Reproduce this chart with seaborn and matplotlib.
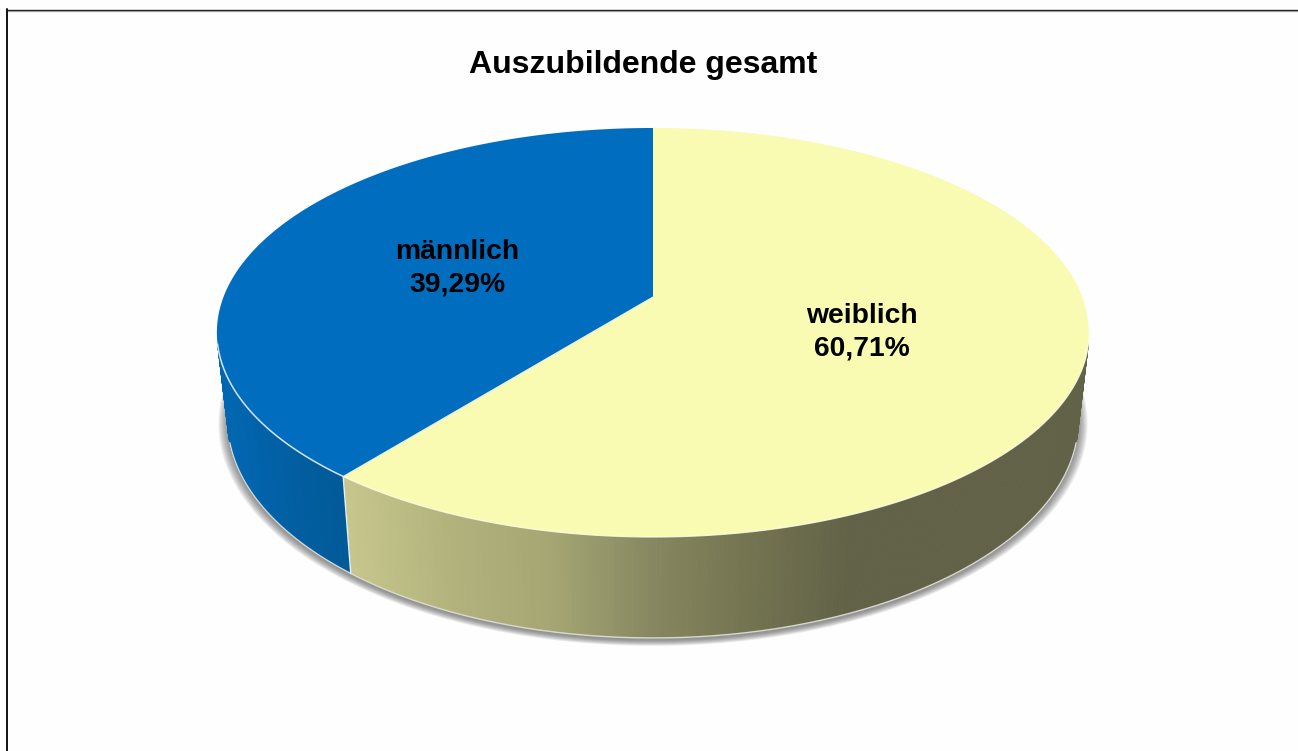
import numpy as np
import matplotlib
matplotlib.use("Agg")
import matplotlib.pyplot as plt
import seaborn as sns

# -----------------------------
# DATA
# -----------------------------
categories = ["männlich", "weiblich"]
shares = [39.29, 60.71]
value_labels = ["39,29%", "60,71%"]
title = "Auszubildende gesamt"

# -----------------------------
# STYLE
# -----------------------------
sns.set_theme(style="white")
plt.rcParams["font.family"] = ["Liberation Sans", "DejaVu Sans"]

BG = "#FEFEFE"
TOP_COLORS = sns.color_palette(["#016DBF", "#F9FBB2"])

# side shading, (pixel x, rgb) stops per slice
SIDE_STOPS = [
    ([228, 340], [(2, 102, 176), (2, 90, 152)]),
    ([349, 450, 550, 650, 750, 850, 1078],
     [(197, 197, 140), (178, 178, 125), (165, 166, 115), (135, 136, 97),
      (115, 116, 80), (98, 98, 72), (98, 98, 72)]),
]

# -----------------------------
# PROJECTION (perspective disc seen from above)
# -----------------------------
CX = 653
PERSP = 0.1736
WALL_LIMIT = -0.22  # cos(theta) where the wall silhouette starts


def project(theta, a, s, b, grow=0.0):
    # theta is measured clockwise from the top of the disc
    u, v = np.sin(theta), np.cos(theta)
    d = 1 + PERSP * v
    return CX + (a + grow) * u / d, (b - (s + grow * 0.5) * v) / d


def top_disc(theta):
    return project(theta, 429.5, 146.8, 297)


def low_disc(theta, grow=0.0, drop=0.0):
    x, y = project(theta, 419, 144.7, 382.5, grow)
    return x, y + drop


def side_color(x, stops):
    xs, rgb = stops
    rgb = np.array(rgb) / 255
    return [np.interp(x, xs, rgb[:, i]) for i in range(3)]


# -----------------------------
# PLOT
# -----------------------------
fig = plt.figure(figsize=(12.98, 7.51), dpi=100, facecolor=BG)
ax = fig.add_axes([0, 0, 1, 1])
ax.set_xlim(0, 1298)
ax.set_ylim(751, 0)
ax.axis("off")

# frame, only top and left are visible in the export
ax.plot([6.5, 1298], [10.6, 10.6], color="#BBBBBB", lw=1.0, zorder=1)
ax.plot([6.5, 1298], [9.5, 9.5], color="#222222", lw=1.0, zorder=1)
ax.plot([6.5, 6.5], [9, 751], color="#111111", lw=1.4, zorder=1)

# slice limits, clockwise from top: weiblich first, männlich closes the circle
fractions = np.array(shares) / sum(shares)
split = 2 * np.pi * fractions[1]
ranges = {1: (0, split), 0: (split, 2 * np.pi)}

# soft shadow below the disc
full = np.linspace(0, 2 * np.pi, 400)
for grow in np.linspace(9, 0, 10):
    sx, sy = low_disc(full, grow=grow, drop=2.5)
    keep = np.cos(full) < 0.0
    ax.fill(sx[keep], sy[keep], color="#555555", alpha=0.085, lw=0, zorder=2)

# side wall: solid base first so the thin strips do not let the shadow through
for i, (start, end) in ranges.items():
    th = np.linspace(start, end, 500)
    th = th[np.cos(th) < WALL_LIMIT]
    tx, ty = top_disc(th)
    lx, ly = low_disc(th)
    base = side_color(tx[0] if i == 0 else tx[-1], SIDE_STOPS[i])
    ax.fill(np.r_[tx, lx[::-1]], np.r_[ty, ly[::-1]], color=base, lw=0,
            zorder=3)

    # shaded by screen x
    for t0, t1 in zip(th[:-1], th[1:]):
        x0, y0 = top_disc(t0)
        x1, y1 = top_disc(t1)
        x2, y2 = low_disc(t1)
        x3, y3 = low_disc(t0)
        col = side_color((x0 + x1) / 2, SIDE_STOPS[i])
        ax.fill([x0, x1, x2, x3], [y0, y1, y2, y3], color=col, lw=0.6,
                zorder=3)

# light rim along the bottom of the wall
th = np.linspace(0, 2 * np.pi, 600)
th = th[np.cos(th) < WALL_LIMIT - 0.05]
rx, ry = low_disc(th)
ax.plot(rx, ry, color="#D8D8D0", lw=1.0, zorder=4)

# seam between the slices on the wall
sx0, sy0 = top_disc(split)
sx1, sy1 = low_disc(split)
ax.plot([sx0, sx1], [sy0, sy1], color="#E8EEF2", lw=1.1, zorder=5)

# top face
vertex = (CX, 297)
for i, (start, end) in ranges.items():
    th = np.linspace(start, end, 400)
    x, y = top_disc(th)
    ax.fill(np.r_[vertex[0], x], np.r_[vertex[1], y], color=TOP_COLORS[i],
            lw=0, zorder=6)

# rim line on the front of the top face
th = np.linspace(np.pi / 2, split, 200)
rx, ry = top_disc(th)
ax.plot(rx, ry, color="#FFFFF0", lw=0.9, alpha=0.8, zorder=7)
th = np.linspace(split, 2 * np.pi, 300)
th = th[np.cos(th) < WALL_LIMIT]
rx, ry = top_disc(th)
ax.plot(rx, ry, color="#D5E4F0", lw=1.1, zorder=7)
ax.plot([vertex[0], sx0], [vertex[1], sy0], color="#EAF2EA", lw=0.8, zorder=7)

# -----------------------------
# TEXT
# -----------------------------
ax.text(643, 64.5, title, fontsize=23, fontweight="bold", color="black",
        ha="center", va="center", zorder=9)

label_pos = [(457, 252), (862, 316)]
for name, val, (lx, ly) in zip(categories, value_labels, label_pos):
    ax.text(lx, ly, name, fontsize=20.3, fontweight="bold", color="black",
            ha="center", va="center", zorder=9)
    ax.text(lx, ly + 33, val, fontsize=20.3, fontweight="bold", color="black",
            ha="center", va="center", zorder=9)

fig.savefig("out.png", dpi=100, facecolor=BG)
plt.close(fig)
